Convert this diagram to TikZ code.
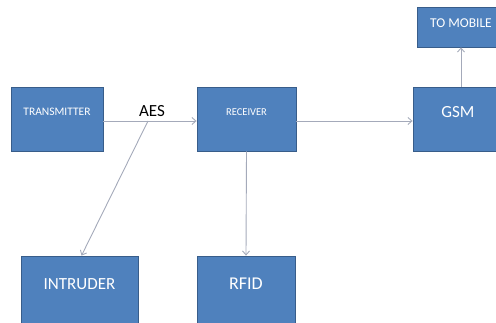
\documentclass[tikz,border=0pt]{standalone}
\usepackage{fontspec}
\setmainfont{Carlito}
\usetikzlibrary{arrows.meta}
\definecolor{boxblue}{HTML}{4F81BD}
\definecolor{boxedge}{HTML}{385D8A}
\definecolor{linegray}{HTML}{A4AABA}

\begin{document}
\begin{tikzpicture}[x=1pt,y=1pt,
  blk/.style={draw=boxedge, fill=boxblue, text=white, line width=0.8pt, inner sep=0pt, minimum height=64pt, text depth=14pt},
  link/.style={draw=linegray, line width=0.9pt, -{Straight Barb[length=4pt,width=7pt]}}]
\useasboundingbox (0,0) rectangle (496,322);
\clip (0,0) rectangle (496,322);
% top row
\node[blk, minimum width=92pt, font=\fontsize{11.5}{12}\selectfont] (tx) at (57,203) {TRANSMITTER};
\node[blk, minimum width=99pt, font=\fontsize{10.5}{11}\selectfont] (rcv) at (246.5,203) {RECEIVER};
\node[blk, minimum width=90pt, font=\fontsize{17}{18}\selectfont] (gsm) at (458,203) {GSM};
\node[blk, minimum width=88pt, minimum height=40pt, text depth=8pt, font=\fontsize{13.5}{14}\selectfont] (mob) at (461,295) {TO MOBILE};
% bottom row
\node[blk, minimum width=117pt, minimum height=72pt, text depth=16pt, font=\fontsize{17}{18}\selectfont] (intr) at (79.5,30) {INTRUDER};
\node[blk, minimum width=98pt, minimum height=72pt, text depth=16pt, font=\fontsize{18}{19}\selectfont] (rfid) at (246,30) {RFID};
% links
\coordinate (tap) at (148,201);
\node[font=\fontsize{17}{18}\selectfont] (aes) at (152,211) {AES};
\draw[link] ([yshift=-2pt]tx.east) -- ([yshift=-2pt]rcv.west);
\draw[link] ([yshift=-2pt]rcv.east) -- ([yshift=-2pt]gsm.west);
\draw[link] (tap) -- ([xshift=2pt]intr.north);
\draw[link] (rcv.south) -- (rfid.north);
\draw[link] (gsm.north -| mob.south) -- (mob.south);
\end{tikzpicture}
\end{document}
